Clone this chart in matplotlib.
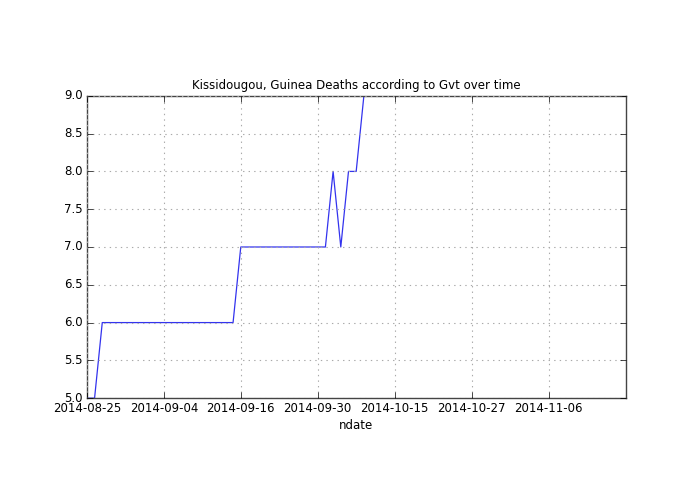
import matplotlib
matplotlib.use("Agg")
import matplotlib.pyplot as plt

plt.style.use("classic")

# Deaths per record (row index); values beyond 9 lie above the visible range
deaths = [5, 5] + [6] * 18 + [7] * 12 + [8, 7, 8, 8, 9] + \
         [10, 10, 11, 11, 12, 12, 13, 13, 14, 14, 15, 15, 16, 16, 17, 17, 18,
          18, 19, 19, 20, 20, 21, 21, 22, 22, 23, 23, 24, 24, 25, 25, 26, 26]
tick_positions = [0, 10, 20, 30, 40, 50, 60]
tick_labels = ["2014-08-25", "2014-09-04", "2014-09-16", "2014-09-30",
               "2014-10-15", "2014-10-27", "2014-11-06"]

fig = plt.figure(figsize=(6.95, 4.94), dpi=100)
ax = fig.add_axes([0.125, 0.194, 0.775, 0.612])
ax.plot(range(len(deaths)), deaths, color="#3333ee", linewidth=0.9)
ax.set_xlim(0, len(deaths) - 1)
ax.set_ylim(5.0, 9.0)
ax.set_xticks(tick_positions)
ax.set_xticklabels(tick_labels)
ax.set_yticks([5.0, 5.5, 6.0, 6.5, 7.0, 7.5, 8.0, 8.5, 9.0])
ax.set_yticklabels(["5.0", "5.5", "6.0", "6.5", "7.0", "7.5", "8.0", "8.5", "9.0"])
ax.tick_params(labelsize=8.5, pad=3)
ax.grid(True, color="#aaaaaa", linestyle=":", linewidth=0.8)
for s in ax.spines.values():
    s.set_color("#444444")
ax.set_xlabel("ndate", fontsize=8.5, labelpad=3)
ax.set_title("Kissidougou, Guinea Deaths according to Gvt over time", fontsize=8.5)
fig.savefig("out.png", dpi=100)
